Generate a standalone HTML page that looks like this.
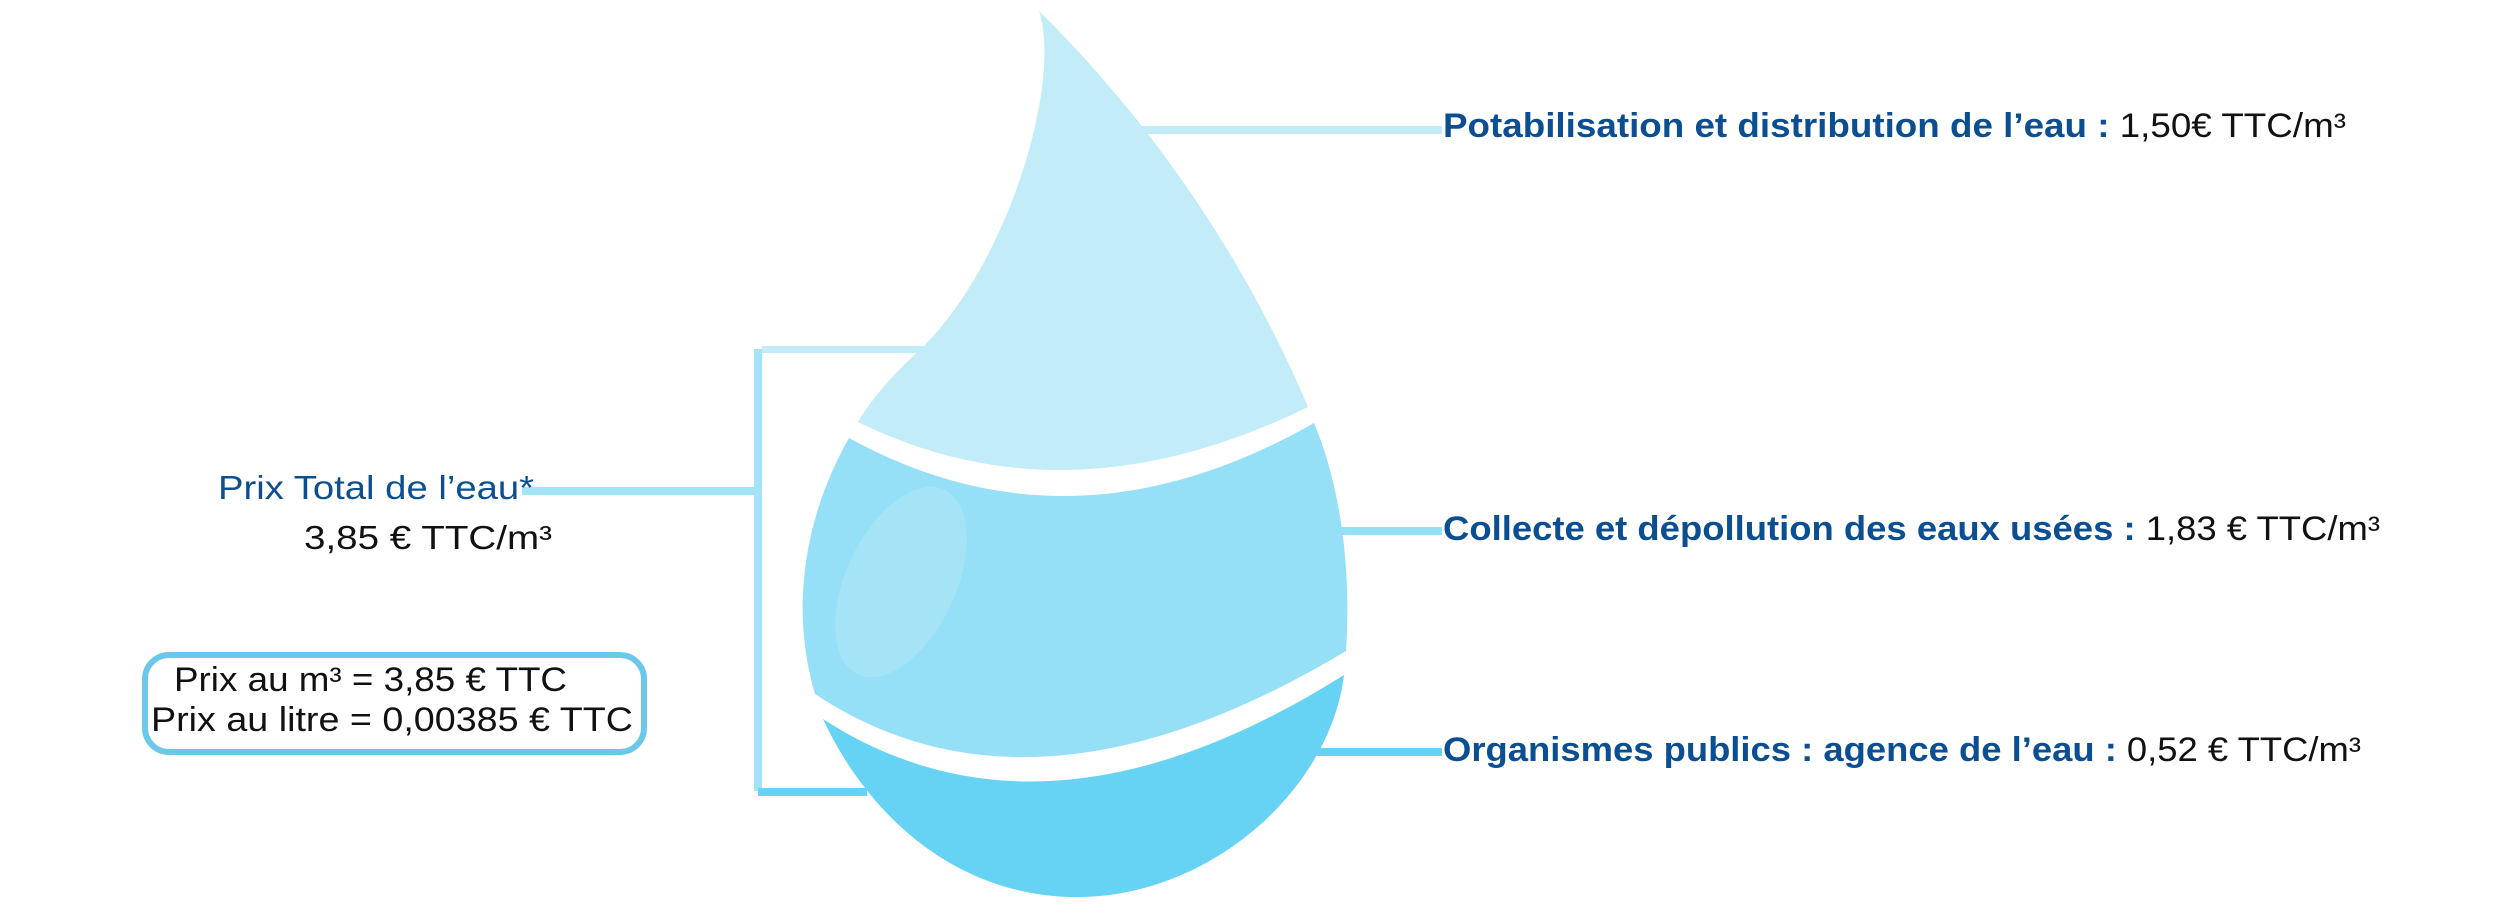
<!DOCTYPE html>
<html><head><meta charset="utf-8"><style>
html,body{margin:0;padding:0;background:#fff;}
svg{display:block;}
text{font-family:"Liberation Sans",sans-serif;}
</style></head><body>
<svg width="2500" height="922" viewBox="0 0 2500 922" xmlns="http://www.w3.org/2000/svg">
<!-- connectors -->
<rect x="1140" y="126" width="302" height="8" fill="#c3ecf9"/>
<rect x="1335" y="527" width="107" height="8" fill="#95e0f6"/>
<rect x="1312" y="748" width="130" height="8" fill="#67d3f4"/>
<rect x="762" y="346" width="175" height="7" fill="#c3ecf9"/>
<rect x="754" y="349" width="8" height="442" fill="#a5e4f8"/>
<rect x="758" y="788" width="109" height="8" fill="#67d3f4"/>
<rect x="522" y="487" width="232" height="8" fill="#a5e4f8"/>
<!-- drop -->
<path d="M1039,11 C1062,80 1010,260 923,347 C895,372 872,398 858,422 Q1067,525 1308,407 C1250,270 1160,130 1039,11Z" fill="#c3ecf9"/>
<path d="M849,438 Q1072,561 1314,423 C1338,480 1352,560 1346,651 Q1033,839 815,694 C805,660 800,620 804,580 C808,530 825,480 849,438Z" fill="#95e0f6"/>
<ellipse cx="901" cy="582" rx="55" ry="102" transform="rotate(25 901 582)" fill="#a5e3f7"/>
<path d="M823,719 Q1045,863 1344,675 C1330,790 1210,897 1077,897 C960,897 870,820 823,719Z" fill="#67d3f4"/>
<!-- right labels -->
<text x="1443" y="137" font-size="34" textLength="903" lengthAdjust="spacingAndGlyphs"><tspan font-weight="bold" fill="#0b4f92">Potabilisation et distribution de l’eau : </tspan><tspan fill="#111">1,50€ TTC/m³</tspan></text>
<text x="1443" y="540" font-size="34" textLength="937" lengthAdjust="spacingAndGlyphs"><tspan font-weight="bold" fill="#0b4f92">Collecte et dépollution des eaux usées : </tspan><tspan fill="#111">1,83 € TTC/m³</tspan></text>
<text x="1443" y="761" font-size="34" textLength="918" lengthAdjust="spacingAndGlyphs"><tspan font-weight="bold" fill="#0b4f92">Organismes publics : agence de l’eau : </tspan><tspan fill="#111">0,52 € TTC/m³</tspan></text>
<!-- left labels -->
<text x="218" y="499" font-size="33" fill="#0b4f92" textLength="316" lengthAdjust="spacingAndGlyphs">Prix Total de l’eau*</text>
<text x="304" y="549" font-size="33" fill="#111" textLength="248" lengthAdjust="spacingAndGlyphs">3,85 € TTC/m³</text>
<rect x="145" y="655" width="499" height="97" rx="24" fill="none" stroke="#6cc8ea" stroke-width="6"/>
<text x="174" y="691" font-size="34" fill="#111" textLength="393" lengthAdjust="spacingAndGlyphs">Prix au m³ = 3,85 € TTC</text>
<text x="151" y="731" font-size="34" fill="#111" textLength="482" lengthAdjust="spacingAndGlyphs">Prix au litre = 0,00385 € TTC</text>
</svg>
</body></html>
